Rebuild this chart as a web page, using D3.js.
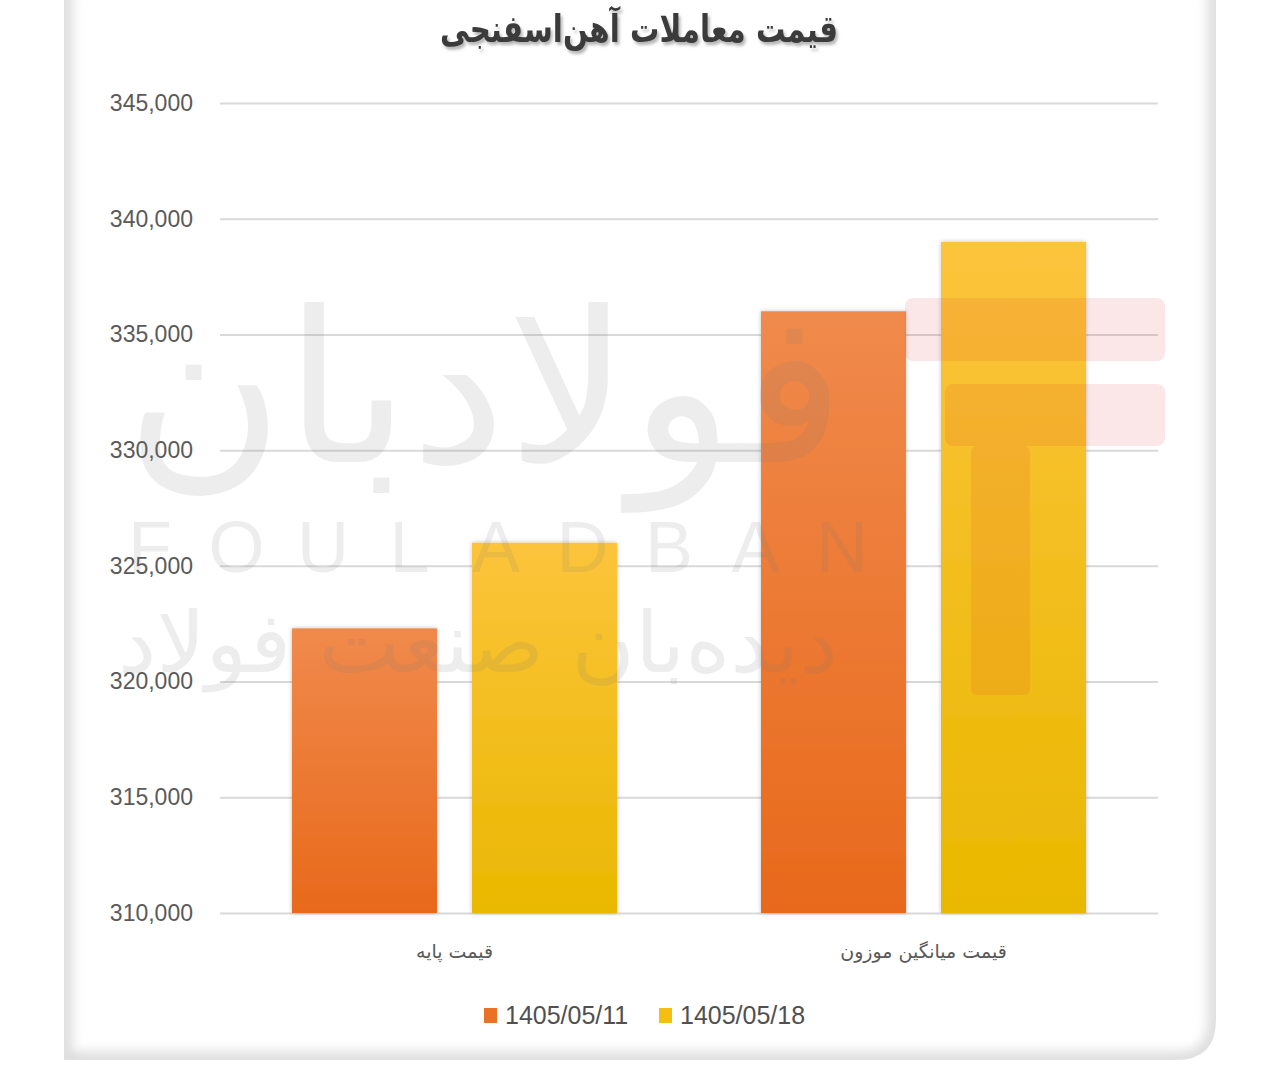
<!DOCTYPE html>
<html><head><meta charset="utf-8">
<script src="https://cdn.jsdelivr.net/npm/d3@7"></script>
<style>
html,body{margin:0;padding:0;background:#fff;}
svg{display:block;}
</style></head>
<body>
<svg id="chart" width="1280" height="1073"></svg>
<script>
const title = "قیمت معاملات آهن‌اسفنجی";
const categories = ["قیمت پایه", "قیمت میانگین موزون"];
const seriesNames = ["1405/05/11", "1405/05/18"];
const series1 = [322300, 336000];   // 1405/05/11
const series2 = [326000, 339000];   // 1405/05/18
const yTicks = [310000, 315000, 320000, 325000, 330000, 335000, 340000, 345000];

const svg = d3.select("#chart");
const defs = svg.append("defs");

// card
const cardPath = "M64,-20 H1216 V1020 Q1216,1060 1176,1060 H64 Z";
defs.append("clipPath").attr("id","cardClip").append("path").attr("d",cardPath);
const blur = defs.append("filter").attr("id","blur").attr("x","-10%").attr("y","-10%").attr("width","120%").attr("height","120%");
blur.append("feGaussianBlur").attr("stdDeviation",6);
svg.append("path").attr("d",cardPath).attr("fill","#fff");
svg.append("g").attr("clip-path","url(#cardClip)")
  .append("path").attr("d",cardPath).attr("fill","none")
  .attr("stroke","#dcdcdc").attr("stroke-width",16).attr("filter","url(#blur)");

// gradients
const g1 = defs.append("linearGradient").attr("id","gOrange").attr("x1",0).attr("y1",0).attr("x2",0).attr("y2",1);
g1.append("stop").attr("offset","0%").attr("stop-color","#f08a4c");
g1.append("stop").attr("offset","100%").attr("stop-color","#e8691b");
const g2 = defs.append("linearGradient").attr("id","gYellow").attr("x1",0).attr("y1",0).attr("x2",0).attr("y2",1);
g2.append("stop").attr("offset","0%").attr("stop-color","#fcc43c");
g2.append("stop").attr("offset","100%").attr("stop-color","#e9b800");
const fills = ["url(#gOrange)","url(#gYellow)"];
const legendColors = ["#ea7125","#f4bf12"];

const shadow = defs.append("filter").attr("id","barShadow").attr("x","-10%").attr("y","-10%").attr("width","120%").attr("height","120%");
shadow.append("feDropShadow").attr("dx",0).attr("dy",0).attr("stdDeviation",2).attr("flood-color","#000").attr("flood-opacity",0.25);

const tShadow = defs.append("filter").attr("id","titleShadow").attr("x","-10%").attr("y","-30%").attr("width","120%").attr("height","160%");
tShadow.append("feDropShadow").attr("dx",2).attr("dy",3).attr("stdDeviation",1.5).attr("flood-color","#777").attr("flood-opacity",0.55);

// scales
const y = d3.scaleLinear().domain([310000,345000]).range([913,103]);
const x0 = d3.scaleBand().domain(categories).range([220,1158]).paddingInner(0).paddingOuter(0);
const x1 = d3.scaleBand().domain(seriesNames).range([0,x0.bandwidth()]).paddingInner(0.1944).paddingOuter(0.4);

// gridlines + tick labels
const yAxis = d3.axisLeft(y).tickValues(yTicks).tickSize(-(1158-220)).tickFormat(d3.format(","));
const ga = svg.append("g").attr("transform","translate(220,0)").call(yAxis);
ga.select(".domain").remove();
ga.selectAll(".tick line").attr("stroke","#d9d9d9").attr("stroke-width",2);
ga.selectAll(".tick text").attr("x",-27).attr("fill","#5a5a5a")
  .style("font-family","'Liberation Sans', Arial, sans-serif").style("font-size","23px");

// bars
const data = categories.map((c,i)=>({cat:c, vals:[series1[i],series2[i]]}));
const groups = svg.append("g").selectAll("g").data(data).join("g")
  .attr("transform",d=>`translate(${x0(d.cat)},0)`);
groups.selectAll("rect").data(d=>d.vals.map((v,j)=>({v,j})))
  .join("rect")
  .attr("x",d=>x1(seriesNames[d.j]))
  .attr("width",x1.bandwidth())
  .attr("y",d=>y(d.v))
  .attr("height",d=>y(310000)-y(d.v))
  .attr("fill",d=>fills[d.j])
  .attr("filter","url(#barShadow)");

// category labels
svg.append("g").selectAll("text").data(categories).join("text")
  .attr("x",d=>x0(d)+x0.bandwidth()/2)
  .attr("y",958)
  .attr("text-anchor","middle")
  .attr("direction","rtl")
  .attr("fill","#595959")
  .style("font-family","'DejaVu Sans', sans-serif")
  .style("font-size","19px")
  .text(d=>d);

// watermark
const wm = svg.append("g").attr("pointer-events","none");
wm.append("text").attr("x",485).attr("y",462).attr("text-anchor","middle")
  .attr("direction","rtl")
  .attr("textLength",720).attr("lengthAdjust","spacingAndGlyphs")
  .style("font-family","'DejaVu Sans', sans-serif").style("font-size","210px")
  .attr("fill","#7a7a7a").attr("opacity",0.13).text("فولادبان");
const letters = "FOULADBAN".split("");
wm.selectAll("text.lt").data(letters).join("text").attr("class","lt")
  .attr("x",(d,i)=>150+i*86.5).attr("y",572).attr("text-anchor","middle")
  .style("font-family","'Liberation Sans', sans-serif").style("font-size","72px")
  .attr("fill","#7a7a7a").attr("opacity",0.13).text(d=>d);
wm.append("text").attr("x",478).attr("y",672).attr("text-anchor","middle")
  .attr("direction","rtl")
  .attr("textLength",720).attr("lengthAdjust","spacingAndGlyphs")
  .style("font-family","'DejaVu Sans', sans-serif").style("font-size","84px")
  .attr("fill","#7a7a7a").attr("opacity",0.13).text("دیده‌بان صنعت فولاد");
const pink = wm.append("g").attr("fill","#e0303a").attr("opacity",0.11);
pink.append("rect").attr("x",905).attr("y",298).attr("width",260).attr("height",63).attr("rx",8);
pink.append("rect").attr("x",945).attr("y",384).attr("width",220).attr("height",62).attr("rx",8);
pink.append("rect").attr("x",971).attr("y",446).attr("width",59).attr("height",249).attr("rx",6);

// title
svg.append("text").attr("x",639).attr("y",42).attr("text-anchor","middle").attr("direction","rtl")
  .attr("fill","#3a3a3a").attr("filter","url(#titleShadow)")
  .attr("textLength",398).attr("lengthAdjust","spacingAndGlyphs")
  .style("font-family","'DejaVu Sans', sans-serif").style("font-size","38px").style("font-weight","bold")
  .text(title);

// legend
const legendX = [484, 659];
const lg = svg.append("g").selectAll("g").data(seriesNames).join("g")
  .attr("transform",(d,i)=>`translate(${legendX[i]},1008)`);
lg.append("rect").attr("width",13).attr("height",15).attr("fill",(d,i)=>legendColors[i]);
lg.append("text").attr("x",21).attr("y",16).attr("fill","#505050")
  .style("font-family","'Liberation Sans', Arial, sans-serif").style("font-size","25px")
  .text(d=>d);
</script>
</body></html>
